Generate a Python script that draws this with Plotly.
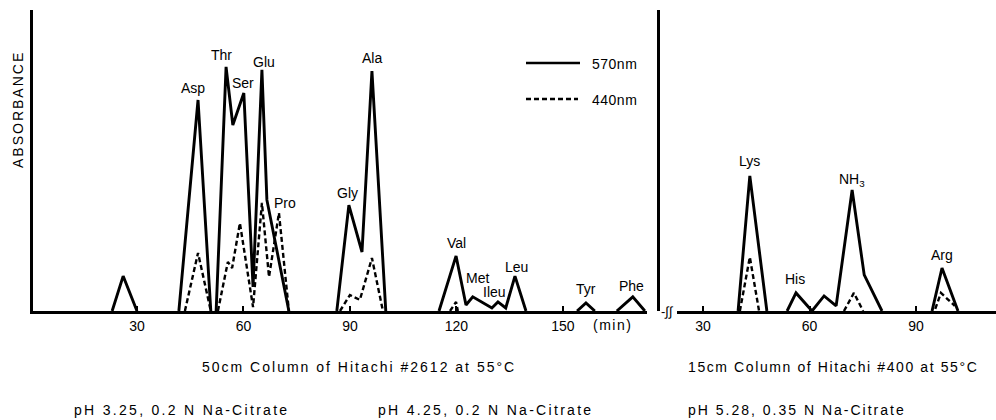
import plotly.graph_objects as go

W, H = 996, 420

# ---------------- data (elution time in min, relative absorbance) ----------------
# 50 cm column (left panel)
t570_left = [23.0, 26.1, 30.0, None,
             41.8, 47.2, 50.8, None,
             52.3, 55.1, 57.0, 60.1, 62.7, 65.2, 66.6, 72.8, None,
             86.3, 89.7, 93.4, 96.2, 100.1, None,
             115.1, 119.9, 122.7, 124.6, 130.0, 131.7, 133.9, 136.5, 139.6, None,
             154.0, 156.5, 159.0, None,
             165.2, 169.7, 173.1]
a570_left = [0, 0.116, 0, None,
             0, 0.701, 0, None,
             0, 0.811, 0.618, 0.724, 0.080, 0.801, 0.369, 0, None,
             0, 0.352, 0.196, 0.797, 0, None,
             0, 0.183, 0.020, 0.047, 0.010, 0.030, 0.010, 0.116, 0, None,
             0, 0.027, 0, None,
             0, 0.047, 0]

t440_left = [43.5, 47.2, 50.8, None,
             52.8, 55.6, 56.8, 59.0, 62.7, 65.2, 67.2, 70.0, 72.8, None,
             87.2, 90.0, 92.8, 96.2, 99.3, None,
             118.2, 119.9, 120.4]
a440_left = [0, 0.193, 0, None,
             0, 0.163, 0.143, 0.292, 0.013, 0.359, 0.113, 0.326, 0, None,
             0, 0.053, 0.037, 0.176, 0, None,
             0, 0.030, 0]

# 15 cm column (right panel)
t570_right = [39.9, 43.2, 48.0, None,
              53.7, 56.2, 60.7, 64.1, 67.5, 72.0, 75.4, 80.4, None,
              94.5, 97.3, 101.8]
a570_right = [0, 0.449, 0, None,
              0, 0.060, 0, 0.050, 0.017, 0.402, 0.120, 0, None,
              0, 0.143, 0]

t440_right = [40.4, 43.2, 45.8, None,
              69.7, 72.5, 75.1, None,
              95.4, 97.0, 100.9]
a440_right = [0, 0.179, 0, None,
              0, 0.060, 0, None,
              0.007, 0.060, 0.017]

# peak labels
labels_left = ["Asp", "Thr", "Ser", "Glu", "Pro", "Gly", "Ala", "Val", "Met", "Ileu", "Leu", "Tyr", "Phe"]
labels_left_t = [45.8, 53.7, 59.9, 65.8, 71.7, 89.4, 96.2, 120.1, 125.8, 130.6, 136.8, 156.5, 169.4]
labels_left_a = [0.741, 0.850, 0.757, 0.827, 0.359, 0.392, 0.841, 0.226, 0.110, 0.063, 0.146, 0.073, 0.083]

labels_right = ["Lys", "His", "NH<sub>3</sub>", "Arg"]
labels_right_t = [43.0, 55.9, 71.9, 97.3]
labels_right_a = [0.498, 0.106, 0.435, 0.186]

ticks_left = [30, 60, 90, 120, 150]
ticks_right = [30, 60, 90]

series_names = ["570nm", "440nm"]

# ---------------- figure ----------------
FONT = "Liberation Sans, Arial, sans-serif"
def px(x): return x / W
def py(y): return 1 - y / H

y_dom = [py(311), py(10)]

fig = go.Figure()
solid = dict(color="black", width=2.9)
dashed = dict(color="black", width=2.4, dash="5px,3px")

fig.add_trace(go.Scatter(x=t570_left, y=a570_left, mode="lines", line=solid,
                         name=series_names[0], xaxis="x", yaxis="y", hoverinfo="skip"))
fig.add_trace(go.Scatter(x=t440_left, y=a440_left, mode="lines", line=dashed,
                         name=series_names[1], xaxis="x", yaxis="y", hoverinfo="skip"))
fig.add_trace(go.Scatter(x=t570_right, y=a570_right, mode="lines", line=solid,
                         name=series_names[0], xaxis="x2", yaxis="y2", hoverinfo="skip",
                         showlegend=False))
fig.add_trace(go.Scatter(x=t440_right, y=a440_right, mode="lines", line=dashed,
                         name=series_names[1], xaxis="x2", yaxis="y2", hoverinfo="skip",
                         showlegend=False))

tickfont = dict(family=FONT, size=14, color="black")
common_x = dict(showline=True, linecolor="black", linewidth=2.5, showgrid=False, zeroline=False,
                ticks="inside", ticklen=5, tickwidth=2, tickcolor="black", tickfont=tickfont)
common_y = dict(showline=True, linecolor="black", linewidth=3, showgrid=False, zeroline=False,
                showticklabels=False, ticks="", range=[0, 1], domain=y_dom)

fig.update_layout(
    width=W, height=H,
    margin=dict(l=0, r=0, t=0, b=0),
    paper_bgcolor="white", plot_bgcolor="white",
    showlegend=False,
    font=dict(family=FONT, size=14, color="black"),
    xaxis=dict(domain=[px(33), px(647)], range=[0.7, 173.7], anchor="y",
               tickvals=ticks_left, ticktext=[str(v) for v in ticks_left], **common_x),
    yaxis=dict(anchor="x", **common_y),
    xaxis2=dict(domain=[px(677), 1.0], range=[22.7, 112.5], anchor="y2",
                tickvals=ticks_right, ticktext=[str(v) for v in ticks_right], **common_x),
    yaxis2=dict(anchor="free", position=px(658), **common_y),
)

ann = []
for name, t, a in zip(labels_left, labels_left_t, labels_left_a):
    ann.append(dict(x=t, y=a, xref="x", yref="y", text=name, showarrow=False,
                    font=dict(family=FONT, size=14, color="black")))
for name, t, a in zip(labels_right, labels_right_t, labels_right_a):
    ann.append(dict(x=t, y=a, xref="x2", yref="y2", text=name, showarrow=False,
                    font=dict(family=FONT, size=14, color="black")))

def ls(text, sp):
    return f'<span style="letter-spacing:{sp}px">{text}</span>'

def paper_text(text, x, y, size=14, xanchor="left", sp=0, angle=0):
    ann.append(dict(x=px(x), y=py(y), xref="paper", yref="paper",
                    text=ls(text, sp) if sp else text, showarrow=False,
                    xanchor=xanchor, yanchor="middle", textangle=angle,
                    font=dict(family=FONT, size=size, color="black")))

# axis title
paper_text("ABSORBANCE", 18, 110, size=14, xanchor="center", sp=2, angle=-90)
# unit
paper_text("(min)", 612, 325, size=14, xanchor="center", sp=1.5)
# axis break
paper_text("-\u222b\u222b", 667, 311, size=13, xanchor="center")
# legend
paper_text(series_names[0], 590, 64, size=14, sp=0.5)
paper_text(series_names[1], 590, 100, size=14, sp=0.5)
# captions
paper_text("50cm Column of Hitachi #2612 at 55\u00b0C", 200, 367, sp=2.0)
paper_text("15cm Column of Hitachi #400 at 55\u00b0C", 686, 367, sp=1.6)
paper_text("pH 3.25, 0.2 N Na-Citrate", 72, 410, sp=2.3)
paper_text("pH 4.25, 0.2 N Na-Citrate", 376, 410, sp=2.3)
paper_text("pH 5.28, 0.35 N Na-Citrate", 686, 410, sp=2.0)

fig.update_layout(annotations=ann)

# legend samples
fig.add_shape(type="line", xref="paper", yref="paper", x0=px(526), x1=px(580), y0=py(63), y1=py(63),
              line=dict(color="black", width=2.4))
fig.add_shape(type="line", xref="paper", yref="paper", x0=px(526), x1=px(578), y0=py(99), y1=py(99),
              line=dict(color="black", width=2.4, dash="5px,3px"))

fig.write_html("out.html")
